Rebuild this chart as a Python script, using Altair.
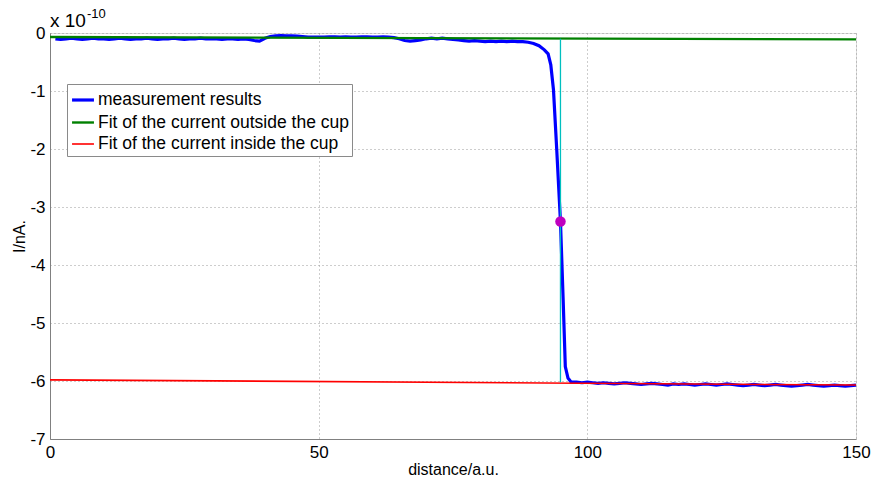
import altair as alt
import pandas as pd

# ---- data (current in units of 1e-10 A) ----
meas_x = list(range(1, 90)) + [90, 91, 92, 92.7, 93.2, 93.7, 94.3, 95, 95.5, 95.9, 96.4, 97] + list(range(98, 151))
meas_y = [
    -0.10, -0.11, -0.10, -0.09, -0.10, -0.11, -0.10, -0.09, -0.10, -0.10,
    -0.11, -0.10, -0.09, -0.10, -0.11, -0.10, -0.10, -0.09, -0.10, -0.11,
    -0.10, -0.10, -0.09, -0.10, -0.11, -0.10, -0.10, -0.09, -0.10, -0.10,
    -0.10, -0.11, -0.10, -0.10, -0.11, -0.10, -0.11, -0.13, -0.14, -0.09,
    -0.06, -0.05, -0.045, -0.05, -0.05, -0.055, -0.06, -0.07, -0.07, -0.07,
    -0.07, -0.065, -0.065, -0.07, -0.065, -0.07, -0.07, -0.065, -0.065, -0.07,
    -0.07, -0.065, -0.07, -0.08, -0.10, -0.13, -0.14, -0.13, -0.12, -0.10,
    -0.09, -0.10, -0.09, -0.10, -0.11, -0.12, -0.13, -0.14, -0.13, -0.14,
    -0.15, -0.14, -0.15, -0.14, -0.15, -0.14, -0.15, -0.15, -0.16,
    -0.18, -0.22, -0.29, -0.36, -0.55, -0.98, -2.0, -3.25, -4.6, -5.75, -5.95, -6.02,
    -6.02, -6.03, -6.02, -6.03, -6.04, -6.03, -6.04, -6.05, -6.04, -6.03,
    -6.04, -6.05, -6.06, -6.05, -6.04, -6.05, -6.06, -6.07, -6.05, -6.06,
    -6.05, -6.06, -6.07, -6.06, -6.05, -6.06, -6.07, -6.06, -6.05, -6.06,
    -6.07, -6.08, -6.07, -6.06, -6.07, -6.08, -6.07, -6.06, -6.07, -6.08,
    -6.09, -6.08, -6.07, -6.06, -6.07, -6.08, -6.09, -6.08, -6.07, -6.08,
    -6.09, -6.08, -6.07,
]
out_x = [0, 150]
out_y = [-0.07, -0.11]
in_x = [0, 150]
in_y = [-5.98, -6.07]
edge_x = [95]
edge_top = [-0.1]
edge_bottom = [-6.02]
mid_x = [95]
mid_y = [-3.25]

series_names = ["measurement results",
                "Fit of the current outside the cup",
                "Fit of the current inside the cup"]
series_colors = ["#0000ff", "#008000", "#ff0000"]
series_widths = [3.2, 1.6, 1.6]

n = min(len(meas_x), len(meas_y))
meas = pd.DataFrame({"x": meas_x[:n], "y": meas_y[:n], "series": series_names[0]})
outside = pd.DataFrame({"x": out_x, "y": out_y, "series": series_names[1]})
inside = pd.DataFrame({"x": in_x, "y": in_y, "series": series_names[2]})
edge = pd.DataFrame({"x": edge_x, "y": edge_top, "y2": edge_bottom})
mid = pd.DataFrame({"x": mid_x, "y": mid_y})

AX_FONT = "Liberation Sans Narrow, Arial Narrow, Liberation Sans, Arial"

xscale = alt.Scale(domain=[0, 150], nice=False)
yscale = alt.Scale(domain=[-7, 0], nice=False)

xaxis = alt.Axis(values=[0, 50, 100, 150], title="distance/a.u.", grid=True,
                 gridDash=[1, 3], gridColor="#9a9a9a", ticks=False,
                 domainColor="#808080", labelFont=AX_FONT, labelFontSize=17,
                 labelColor="#000", titleFont=AX_FONT, titleFontSize=16,
                 titleFontWeight="normal", titleColor="#000", labelPadding=5,
                 titlePadding=1, labelFlush=False)
yaxis = alt.Axis(values=[0, -1, -2, -3, -4, -5, -6, -7], title="I/nA.", grid=True,
                 gridDash=[1, 3], gridColor="#9a9a9a", ticks=False,
                 domainColor="#808080", labelFont=AX_FONT, labelFontSize=17,
                 labelColor="#000", titleFont=AX_FONT, titleFontSize=16,
                 titleFontWeight="normal", titleColor="#000", labelPadding=5,
                 titlePadding=2, labelExpr="'' + datum.value", labelFlush=False)

color_scale = alt.Scale(domain=series_names, range=series_colors)
width_scale = alt.Scale(domain=series_names, range=series_widths)
legend = alt.Legend(title=None, orient="none", legendX=17, legendY=51,
                    symbolType="stroke", symbolSize=480, symbolStrokeWidth=2.5,
                    labelFont="Liberation Sans, Arial", labelFontSize=17.5,
                    labelColor="#000", labelLimit=400, labelOffset=2,
                    strokeColor="#8a8a8a", fillColor="white", padding=3,
                    rowPadding=1, symbolOffset=0)


def series_layer(df):
    return alt.Chart(df).mark_line().encode(
        x=alt.X("x:Q", scale=xscale, axis=xaxis),
        y=alt.Y("y:Q", scale=yscale, axis=yaxis),
        color=alt.Color("series:N", scale=color_scale, legend=legend),
        strokeWidth=alt.StrokeWidth("series:N", scale=width_scale, legend=legend),
    )


meas_layer = series_layer(meas)
out_layer = series_layer(outside)
in_layer = series_layer(inside)

edge_layer = alt.Chart(edge).mark_rule(color="#00bfbf", strokeWidth=1.3).encode(
    x="x:Q", y="y:Q", y2="y2:Q")
mid_layer = alt.Chart(mid).mark_point(filled=True, color="#bf00bf", size=110, opacity=1).encode(
    x="x:Q", y="y:Q")

exp_base = alt.Chart(pd.DataFrame({"t": ["x 10"]})).mark_text(
    align="left", baseline="alphabetic", fontSize=19, font=AX_FONT, color="#000").encode(
    text="t:N", x=alt.value(0), y=alt.value(-6))
exp_sup = alt.Chart(pd.DataFrame({"t": ["-10"]})).mark_text(
    align="left", baseline="alphabetic", fontSize=13, font=AX_FONT, color="#000").encode(
    text="t:N", x=alt.value(37), y=alt.value(-15))

chart = alt.layer(meas_layer, out_layer, in_layer, edge_layer, mid_layer, exp_base, exp_sup).properties(
    width=806, height=406,
    autosize=alt.AutoSizeParams(type="none"),
    padding={"left": 50, "top": 33, "right": 18, "bottom": 44},
).configure_view(stroke="#808080", strokeWidth=1.2).configure(background="white")

chart.save("out.html", embed_options={"renderer": "svg", "actions": False})
